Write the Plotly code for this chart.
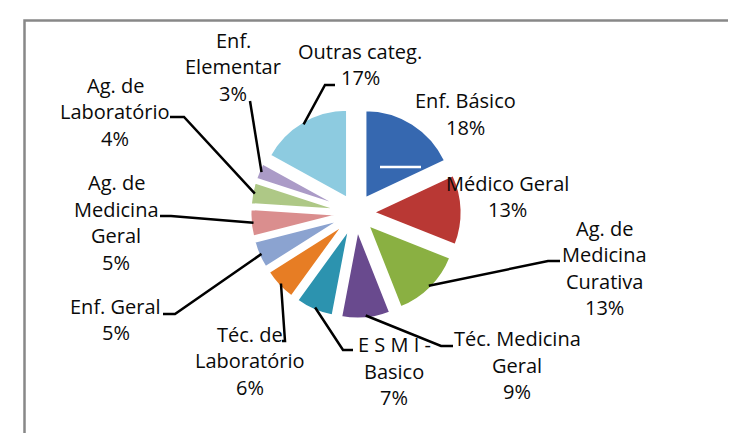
import math
import plotly.graph_objects as go

# ---------------- data ----------------
categories = ["Enf. Básico", "Médico Geral", "Ag. de Medicina Curativa",
              "Téc. Medicina Geral", "E S M I - Basico", "Téc. de Laboratório",
              "Enf. Geral", "Ag. de Medicina Geral", "Ag. de Laboratório",
              "Enf. Elementar", "Outras categ."]
values = [18, 13, 13, 9, 7, 6, 5, 5, 4, 3, 17]
label_lines = [["Enf. Básico"], ["Médico Geral"], ["Ag. de", "Medicina", "Curativa"],
               ["Téc. Medicina", "Geral"], ["E S M I -", "Basico"], ["Téc. de", "Laboratório"],
               ["Enf. Geral"], ["Ag. de", "Medicina", "Geral"], ["Ag. de", "Laboratório"],
               ["Enf.", "Elementar"], ["Outras categ."]]
colors = ["#3668B0", "#B93834", "#8AB042", "#694A8E", "#2C93AF", "#E77D24",
          "#8BA3D0", "#DA8E8E", "#AEC886", "#AB9BC7", "#8DCBE0"]

# ---------------- layout / geometry ----------------
W, H = 736, 433
CX, CY = 348, 205          # pie centre (px)
R_EXT = 105.6              # outer extent incl. pull (px)
PULL = 0.2
R = R_EXT / (1 + PULL)
LINE_H = 26.5              # label line spacing (px)

# label block centres (px) and leader-line label side points (elbow, end)
label_pos = [(457.5, 106), (499, 188.5), (596, 260), (509, 357), (386, 363),
             (242, 352.5), (107.5, 311.5), (108, 214.5), (107, 103.5),
             (225, 59), (352, 56.5)]
leaders = [None, None, ((540, 253), (552, 253)), ((433, 338), (445, 338)),
           ((335, 342), (345, 342)), ((277, 333), (274, 333)), ((167, 306), (155, 306)),
           ((163, 208), (152, 208)), ((176, 109), (162, 109)), ((242, 93), (242, 93)),
           ((317, 77), (327, 77))]

def px2paper(x, y):
    return x / W, 1 - y / H

fig = go.Figure(go.Pie(
    labels=categories, values=values, sort=False, direction="clockwise", rotation=0,
    pull=[PULL] * len(values), textinfo="none", hoverinfo="label+percent",
    marker=dict(colors=colors, line=dict(color="white", width=2)),
    domain=dict(x=[(CX - R_EXT) / W, (CX + R_EXT) / W],
                y=[1 - (CY + R_EXT) / H, 1 - (CY - R_EXT) / H]),
    showlegend=False,
))

total = sum(values)
annotations = []
shapes = []
cum = 0
for i, v in enumerate(values):
    theta = 2 * math.pi * (cum + v / 2) / total
    cum += v
    dist = PULL * R + 0.97 * R
    sx, sy = CX + dist * math.sin(theta), CY - dist * math.cos(theta)
    lx, ly = label_pos[i]
    lines = label_lines[i] + [f"{round(100 * v / total)}%"]
    n = len(lines)
    for k, line in enumerate(lines):
        yy = ly + (k - (n - 1) / 2) * LINE_H
        ax_, ay_ = px2paper(lx, yy)
        annotations.append(dict(x=ax_, y=ay_, xref="paper", yref="paper", text=line,
                                showarrow=False, xanchor="center", yanchor="middle",
                                align="center", font=dict(size=20, color="#0a0a0a")))
    if leaders[i] is not None:
        (ex, ey), (tx, ty) = leaders[i]
        p0, p1, p2 = px2paper(sx, sy), px2paper(ex, ey), px2paper(tx, ty)
        shapes.append(dict(type="path", xref="paper", yref="paper",
                           path=f"M {p0[0]} {p0[1]} L {p1[0]} {p1[1]} L {p2[0]} {p2[1]}",
                           line=dict(color="black", width=2.5)))

# small white stroke inside first slice (as in the original)
a0, a1 = px2paper(CX + 24, CY - 46), px2paper(CX + 65, CY - 46)
shapes.append(dict(type="line", xref="paper", yref="paper", x0=a0[0], y0=a0[1],
                   x1=a1[0], y1=a1[1], line=dict(color="white", width=2.5)))

# chart-area border
b0 = px2paper(16.5, 12.5)
b1 = px2paper(732, 445)
shapes.append(dict(type="rect", xref="paper", yref="paper", x0=b0[0], y0=b1[1],
                   x1=b1[0], y1=b0[1], line=dict(color="#888888", width=2.5),
                   fillcolor="rgba(0,0,0,0)"))

fig.update_layout(width=W, height=H, autosize=False,
                  margin=dict(l=0, r=0, t=0, b=0),
                  paper_bgcolor="white", plot_bgcolor="white",
                  font=dict(family="'Open Sans', 'Noto Sans', sans-serif", color="#0a0a0a"),
                  annotations=annotations, shapes=shapes)

fig.write_html("out.html")
